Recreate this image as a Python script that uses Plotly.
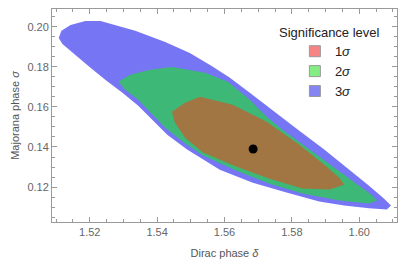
import plotly.graph_objects as go

# Region outlines (Dirac phase delta, Majorana phase sigma)
sig3_delta = [1.5108, 1.5116, 1.5143, 1.5187, 1.5232, 1.5276, 1.5335, 1.5424, 1.5497, 1.5562,
              1.5616, 1.5675, 1.5734, 1.5822, 1.5896, 1.5970, 1.6029, 1.6073, 1.6094, 1.6082,
              1.6029, 1.5955, 1.5881, 1.5784, 1.5684, 1.5586, 1.5489, 1.5430, 1.5379, 1.5344,
              1.5297, 1.5246, 1.5196, 1.5149, 1.5119]
sig3_sigma = [0.1944, 0.1979, 0.2008, 0.2028, 0.2028, 0.2008, 0.1979, 0.1924, 0.1869, 0.1804,
              0.1745, 0.1670, 0.1596, 0.1481, 0.1387, 0.1287, 0.1207, 0.1143, 0.1108, 0.1088,
              0.1094, 0.1108, 0.1128, 0.1173, 0.1222, 0.1287, 0.1387, 0.1461, 0.1546, 0.1605,
              0.1670, 0.1735, 0.1804, 0.1869, 0.1914]

sig2_delta = [1.5285, 1.5320, 1.5379, 1.5444, 1.5542, 1.5610, 1.5675, 1.5725, 1.5772, 1.5873,
              1.5970, 1.6035, 1.6053, 1.6029, 1.5941, 1.5831, 1.5734, 1.5636, 1.5536, 1.5477,
              1.5424, 1.5379, 1.5344, 1.5305]
sig2_sigma = [0.1725, 0.1760, 0.1785, 0.1799, 0.1770, 0.1725, 0.1635, 0.1551, 0.1486, 0.1362,
              0.1247, 0.1163, 0.1133, 0.1118, 0.1133, 0.1168, 0.1217, 0.1282, 0.1357, 0.1426,
              0.1496, 0.1576, 0.1635, 0.1685]

sig1_delta = [1.5444, 1.5483, 1.5527, 1.5624, 1.5725, 1.5822, 1.5896, 1.5941, 1.5955, 1.5911,
              1.5831, 1.5734, 1.5636, 1.5536, 1.5483, 1.5453]
sig1_sigma = [0.1576, 0.1620, 0.1650, 0.1610, 0.1526, 0.1411, 0.1312, 0.1247, 0.1212, 0.1188,
              0.1193, 0.1242, 0.1302, 0.1372, 0.1446, 0.1521]

best_delta = [1.5685]
best_sigma = [0.139]

levels = ["1<i>σ</i>", "2<i>σ</i>", "3<i>σ</i>"]
legend_colors = ["rgba(245,110,110,0.85)", "rgba(110,235,110,0.85)", "rgba(110,110,240,0.85)"]

FONT = "Liberation Sans, Arial, sans-serif"
GRAY = "#9a9a9a"

fig = go.Figure()

fig.add_trace(go.Scatter(x=sig3_delta, y=sig3_sigma, fill="toself", mode="lines",
                         line=dict(width=0), fillcolor="rgba(60,60,240,0.7)",
                         showlegend=False, hoverinfo="skip"))
fig.add_trace(go.Scatter(x=sig2_delta, y=sig2_sigma, fill="toself", mode="lines",
                         line=dict(width=0), fillcolor="rgba(30,220,50,0.65)",
                         showlegend=False, hoverinfo="skip"))
fig.add_trace(go.Scatter(x=sig1_delta, y=sig1_sigma, fill="toself", mode="lines",
                         line=dict(width=0), fillcolor="rgba(235,70,30,0.58)",
                         showlegend=False, hoverinfo="skip"))
fig.add_trace(go.Scatter(x=best_delta, y=best_sigma, mode="markers",
                         marker=dict(color="black", size=9), showlegend=False))

for name, col in zip(levels, legend_colors):
    fig.add_trace(go.Scatter(x=[None], y=[None], mode="markers", name=name,
                             marker=dict(symbol="square", size=11, color=col,
                                         line=dict(color="#999999", width=1))))

axis_common = dict(showline=True, linecolor=GRAY, linewidth=1, mirror="ticks",
                   ticks="inside", ticklen=5, tickcolor=GRAY, tickwidth=1,
                   showgrid=False, zeroline=False, dtick=0.02, tick0=0, automargin=False,
                   tickfont=dict(family=FONT, size=11, color="#666666"),
                   minor=dict(ticks="inside", ticklen=3, tickcolor=GRAY, dtick=0.005, showgrid=False))

fig.update_layout(
    width=407, height=270,
    margin=dict(l=52, r=10, t=9, b=48),
    paper_bgcolor="white", plot_bgcolor="white",
    font=dict(family=FONT),
    xaxis=dict(range=[1.5088, 1.6112], tickformat=".2f",
               title=dict(text="Dirac phase <i>δ</i>", standoff=12,
                          font=dict(family=FONT, size=11, color="#555555")),
               **axis_common),
    yaxis=dict(range=[0.1026, 0.2088], tickformat=".2f",
               title=dict(text="Majorana phase <i>σ</i>", standoff=5,
                          font=dict(family=FONT, size=11, color="#555555")),
               **axis_common),
    legend=dict(x=0.704, y=0.872, xanchor="left", yanchor="top", bgcolor="rgba(0,0,0,0)",
                font=dict(family=FONT, size=13, color="#222222"), itemwidth=30, tracegroupgap=0),
    annotations=[dict(text="Significance level", xref="paper", yref="paper", x=0.804, y=0.8875,
                      xanchor="center", yanchor="middle", showarrow=False,
                      font=dict(family=FONT, size=13, color="#222222"))],
)

fig.write_html("out.html", config={"displayModeBar": False},
               post_script="document.body.style.margin='0';")
